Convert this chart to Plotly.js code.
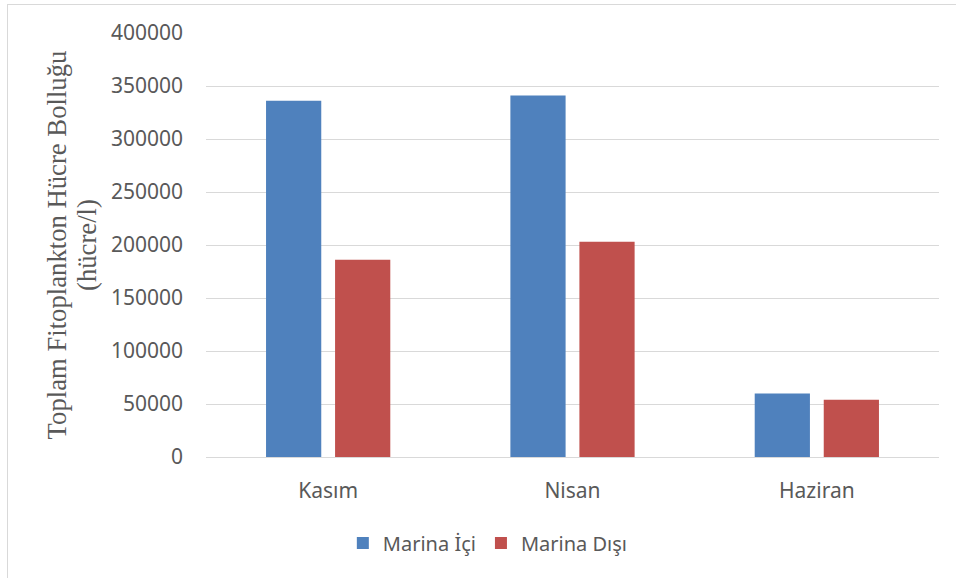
<!DOCTYPE html>
<html>
<head>
<meta charset="utf-8">
<script src="https://cdn.plot.ly/plotly-3.0.1.min.js"></script>
<style>
  html, body { margin: 0; padding: 0; background: #ffffff; }
  #wrap { position: relative; width: 956px; height: 578px; }
  #frame { position: absolute; left: 7px; top: 4px; width: 960px; height: 590px; border: 1px solid #d9d9d9; box-sizing: border-box; pointer-events: none; }
  #chart { position: absolute; left: 0; top: 0; width: 956px; height: 578px; }
</style>
</head>
<body>
<div id="wrap">
  <div id="chart"></div>
  <div id="frame"></div>
</div>
<script>
const categories = ["Kasım", "Nisan", "Haziran"];
const seriesNames = ["Marina İçi", "Marina Dışı"];
const marinaIci = [336000, 341000, 60000];
const marinaDisi = [186000, 203000, 54000];
const yTicks = [0, 50000, 100000, 150000, 200000, 250000, 300000, 350000, 400000];
const yTitleMain = "Toplam Fitoplankton Hücre Bolluğu";
const yTitleUnit = "(hücre/l)";
const colors = ["#4F81BD", "#C0504D"];

const traces = [
  { type: "bar", name: seriesNames[0], x: categories, y: marinaIci, marker: { color: colors[0] }, hoverinfo: "x+y" },
  { type: "bar", name: seriesNames[1], x: categories, y: marinaDisi, marker: { color: colors[1] }, hoverinfo: "x+y" }
];

const serif = "Liberation Serif, Times New Roman, serif";

const layout = {
  width: 956, height: 578,
  margin: { l: 206, r: 17, t: 33, b: 121 },
  paper_bgcolor: "rgba(0,0,0,0)",
  plot_bgcolor: "#ffffff",
  barmode: "group",
  bargap: 0.435,
  bargroupgap: 0.2,
  font: { family: "Noto Sans, Open Sans, sans-serif", color: "#595959" },
  xaxis: {
    type: "category",
    showgrid: false,
    showline: false,
    zeroline: false,
    ticks: "",
    ticklabelstandoff: 19,
    tickfont: { size: 21, color: "#595959" }
  },
  yaxis: {
    range: [0, 400000],
    tickvals: yTicks,
    ticktext: yTicks.map(String),
    showgrid: true,
    gridcolor: "#d9d9d9",
    gridwidth: 1,
    zeroline: true,
    zerolinecolor: "#d9d9d9",
    zerolinewidth: 1,
    showline: false,
    ticks: "",
    ticklabelstandoff: 22,
    tickfont: { size: 21, color: "#595959" },
    title: {
      text: yTitleMain,
      font: { family: serif, size: 26.7, color: "#595959" },
      standoff: 36
    }
  },
  annotations: [
    {
      text: yTitleUnit,
      xref: "paper", yref: "paper",
      x: (87 - 206) / 733, y: 0.5,
      xanchor: "center", yanchor: "middle",
      textangle: -90,
      showarrow: false,
      font: { family: serif, size: 26.7, color: "#595959" }
    }
  ],
  showlegend: true,
  legend: {
    orientation: "h",
    x: 0.3845, xanchor: "center",
    y: -0.203, yanchor: "middle",
    font: { size: 20, color: "#595959" },
    traceorder: "normal",
    itemwidth: 30
  }
};

Plotly.newPlot("chart", traces, layout, { displayModeBar: false, staticPlot: true });
</script>
</body>
</html>
